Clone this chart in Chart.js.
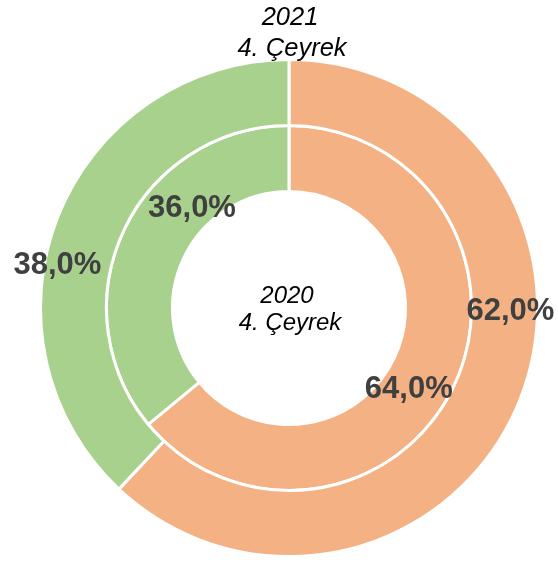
<!DOCTYPE html>
<html>
<head>
<meta charset="utf-8">
<script src="https://cdn.jsdelivr.net/npm/chart.js@4/dist/chart.umd.min.js"></script>
<style>
  html, body { margin: 0; padding: 0; background: #ffffff; }
  #wrap { width: 558px; height: 564px; position: relative; }
</style>
</head>
<body>
<div id="wrap"><canvas id="c" width="558" height="564"></canvas></div>
<script>
// ---- data ----
const categories = ["Turuncu", "Yeşil"];
const seriesNames = [["2021", "4. Çeyrek"], ["2020", "4. Çeyrek"]];
const values2021 = [62.0, 38.0];   // outer ring
const values2020 = [64.0, 36.0];   // inner ring

// ---- styles ----
const colors = ["#F4B183", "#A9D18E"];
const labelColor = "#404040";
// label placement within each arc: [fraction along arc, fraction across ring]
const labelPlacement = [
  [[0.404, 0.59], [0.4225, 0.81]],
  [[0.536, 0.41], [0.664, 0.368]]
];

function fmt(v) { return v.toFixed(1).replace('.', ',') + '%'; }

const textPlugin = {
  id: 'textPlugin',
  afterDatasetsDraw(chart) {
    const ctx = chart.ctx;
    ctx.save();
    // percentage labels
    chart.data.datasets.forEach((ds, di) => {
      const meta = chart.getDatasetMeta(di);
      meta.data.forEach((arc, i) => {
        const p = arc.getProps(['x','y','startAngle','endAngle','innerRadius','outerRadius'], true);
        const [t, s] = labelPlacement[di][i];
        const a = p.startAngle + t * (p.endAngle - p.startAngle);
        const r = p.innerRadius + s * (p.outerRadius - p.innerRadius);
        const x = p.x + r * Math.cos(a);
        const y = p.y + r * Math.sin(a);
        const size = 31;
        ctx.font = 'bold ' + size + 'px "Liberation Sans", Arial, sans-serif';
        ctx.fillStyle = labelColor;
        ctx.textAlign = 'center';
        ctx.textBaseline = 'alphabetic';
        ctx.fillText(fmt(ds.data[i]), x, y + 0.358 * size);
      });
    });
    // series titles
    const m0 = chart.getDatasetMeta(0).data[0];
    const c = m0.getProps(['x','y','outerRadius'], true);
    ctx.fillStyle = '#000000';
    ctx.textAlign = 'center';
    ctx.textBaseline = 'alphabetic';
    ctx.font = 'italic 25.5px "Liberation Sans", Arial, sans-serif';
    const top = c.y - c.outerRadius;
    ctx.fillText(seriesNames[0][0], c.x + 1, top - 35);
    ctx.fillText(seriesNames[0][1], c.x + 3, top - 3.5);
    ctx.font = 'italic 24px "Liberation Sans", Arial, sans-serif';
    ctx.fillText(seriesNames[1][0], c.x - 2, c.y - 5);
    ctx.fillText(seriesNames[1][1], c.x + 1, c.y + 22);
    ctx.restore();
  }
};

new Chart(document.getElementById('c'), {
  type: 'doughnut',
  data: {
    labels: categories,
    datasets: [
      { label: seriesNames[0].join(' '), data: values2021, backgroundColor: colors, borderColor: '#ffffff', borderWidth: 3, hoverOffset: 0 },
      { label: seriesNames[1].join(' '), data: values2020, backgroundColor: colors, borderColor: '#ffffff', borderWidth: 3, hoverOffset: 0 }
    ]
  },
  options: {
    responsive: false,
    animation: false,
    cutout: '46.9%',
    layout: { padding: { left: 39, top: 58, right: 19, bottom: 6 } },
    plugins: {
      legend: { display: false },
      tooltip: { enabled: false },
      title: { display: false }
    }
  },
  plugins: [textPlugin]
});
</script>
</body>
</html>
